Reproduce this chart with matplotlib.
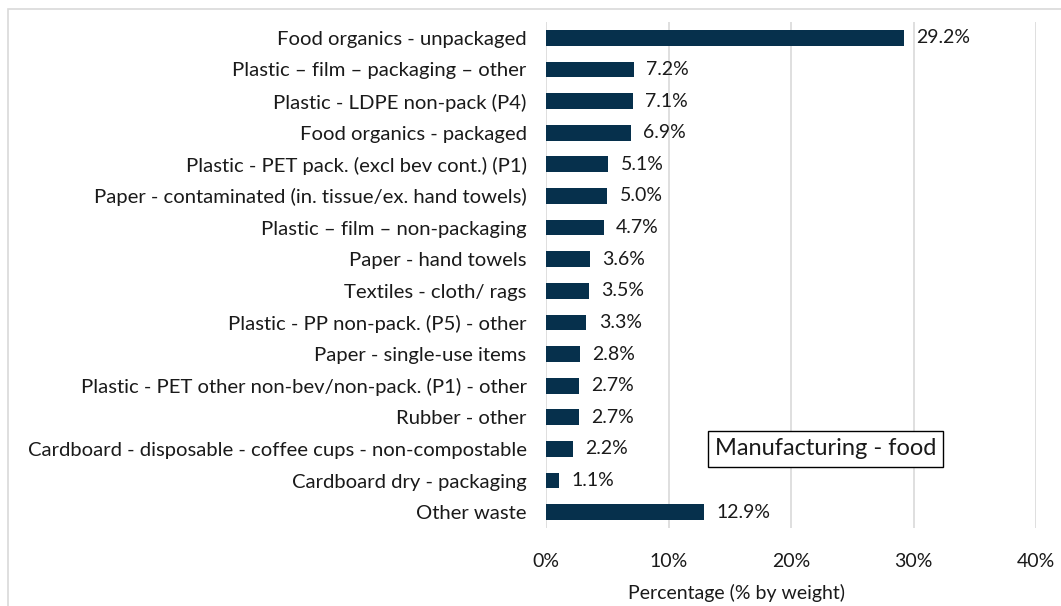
import matplotlib.pyplot as plt
from matplotlib.patches import Rectangle
from matplotlib.ticker import FuncFormatter

plt.rcParams['font.family'] = ['Lato', 'DejaVu Sans']

categories = [
    "Food organics - unpackaged",
    "Plastic \u2013 film \u2013 packaging \u2013 other",
    "Plastic - LDPE non-pack (P4)",
    "Food organics - packaged",
    "Plastic - PET pack. (excl bev cont.) (P1)",
    "Paper - contaminated (in. tissue/ex. hand towels)",
    "Plastic \u2013 film \u2013 non-packaging",
    "Paper - hand towels",
    "Textiles - cloth/ rags",
    "Plastic - PP non-pack. (P5) - other",
    "Paper - single-use items",
    "Plastic - PET other non-bev/non-pack. (P1) - other",
    "Rubber - other",
    "Cardboard - disposable - coffee cups - non-compostable",
    "Cardboard dry - packaging",
    "Other waste",
]
values = [29.2, 7.2, 7.1, 6.9, 5.1, 5.0, 4.7, 3.6, 3.5, 3.3, 2.8, 2.7, 2.7, 2.2, 1.1, 12.9]
xticks = [0, 10, 20, 30, 40]

bar_color = "#06304C"
text_color = "#1A1A1A"
fs = 14

fig = plt.figure(figsize=(10.61, 6.06), dpi=100)
ax = fig.add_axes([0.5146, 0.1287, 0.4619, 0.835])

# outer chart border (partly cut off in the reference)
fig.patches.append(Rectangle((8 / 1061, -0.05), 1.1, 1 - 9 / 606 + 0.05,
                             transform=fig.transFigure, fill=False,
                             edgecolor="#D9D9D9", linewidth=1.2))

y = list(range(len(categories)))
ax.barh(y, values, height=0.5, color=bar_color, zorder=3)
for yi, v in zip(y, values):
    ax.text(v + 1.0, yi, f"{v:.1f}%", va="center", ha="left",
            fontsize=fs, color=text_color)

ax.set_yticks(y)
ax.set_yticklabels(categories, fontsize=14.6, color=text_color)
ax.set_ylim(len(categories) - 0.5, -0.5)
ax.set_xlim(0, 40)
ax.set_xticks(xticks)
ax.xaxis.set_major_formatter(FuncFormatter(lambda v, p: f"{v:.0f}%"))
ax.tick_params(axis="x", labelsize=fs, colors=text_color, length=0, pad=18)
ax.tick_params(axis="y", length=0, pad=14)
ax.set_xlabel("Percentage (% by weight)", fontsize=fs, color=text_color)
ax.xaxis.set_label_coords(0.388, -0.11)

ax.grid(axis="x", color="#D9D9D9", linewidth=1.2, zorder=0)
for s in ax.spines.values():
    s.set_visible(False)

ax.text(22.8, 13.0, "Manufacturing - food", fontsize=17, color=text_color,
        ha="center", va="center",
        bbox=dict(boxstyle="square,pad=0.3", facecolor="white", edgecolor="black", linewidth=1))

fig.savefig("out.png", dpi=100)
